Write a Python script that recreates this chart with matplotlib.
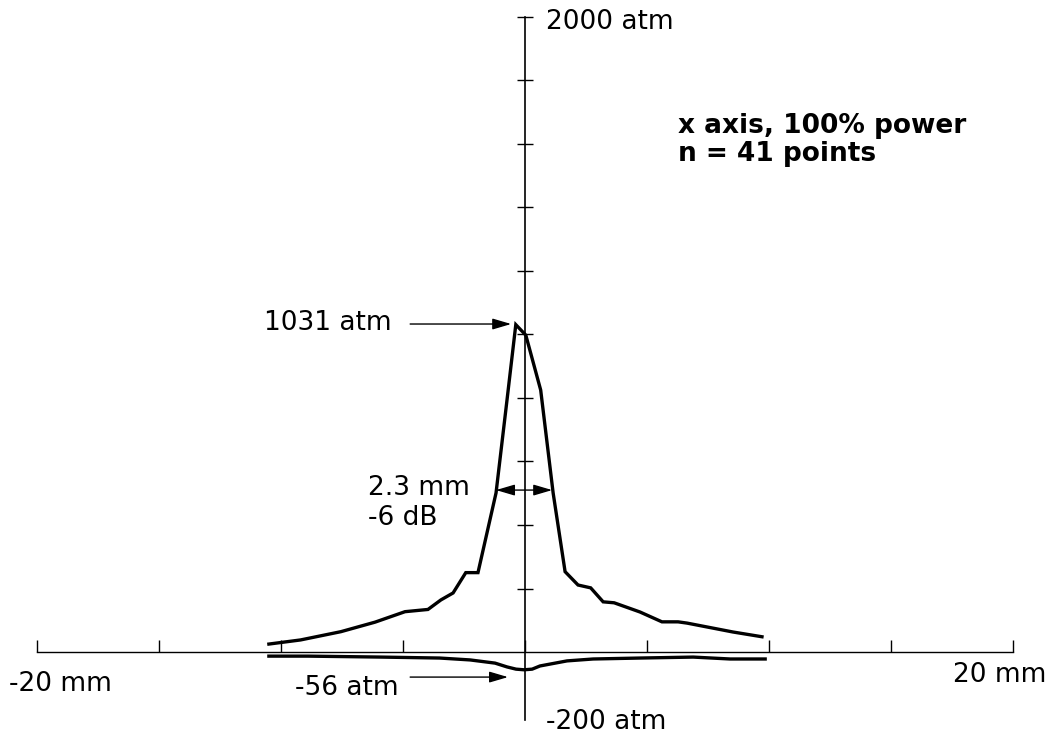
import matplotlib
matplotlib.use('Agg')
import matplotlib.pyplot as plt

# pressure profile along x axis (mm, atm)
pos_x = [-10.5, -9.2, -7.55, -6.15, -4.92, -3.98, -3.45, -2.95, -2.43, -1.93,
         -1.19, -0.74, -0.38, 0.03, 0.64, 1.15, 1.64, 2.17, 2.69, 3.2,
         3.65, 4.71, 5.61, 6.27, 6.64, 8.52, 9.71]
pos_p = [25, 38, 64, 94, 127, 134, 164, 186, 250, 250,
         501, 794, 1031, 998, 825, 501, 253, 211, 202, 158,
         155, 126, 95, 95, 91, 63, 48]

neg_x = [-10.5, -8.9, -5.9, -3.5, -2.25, -1.23, -0.74, -0.37, -0.04, 0.29,
         0.61, 1.72, 2.79, 4.71, 6.89, 8.4, 9.84]
neg_p = [-13, -13, -16, -19, -25, -35, -47, -54, -56, -54,
         -44, -28, -22, -19, -16, -22, -22]

x_ticks = [-20, -15, -10, -5, 0, 5, 10, 15, 20]
y_ticks = [200, 400, 600, 800, 1000, 1200, 1400, 1600, 1800, 2000]

peak = 1031
trough = -56
fwhm = (-1.19, 1.11, 510)

fig = plt.figure(figsize=(10.56, 7.37), dpi=100)
ax = fig.add_axes([0, 0, 1, 1])
ax.set_xlim(-21.52, 21.76)
ax.set_ylim(-267.7, 2053.5)

for s in ['top', 'right']:
    ax.spines[s].set_visible(False)
ax.spines['left'].set_position(('data', 0))
ax.spines['bottom'].set_position(('data', 0))
ax.spines['left'].set_bounds(-215, 2000)
ax.spines['bottom'].set_bounds(-20, 20)
ax.spines['left'].set_linewidth(1.2)
ax.spines['bottom'].set_linewidth(1.0)

ax.set_xticks(x_ticks)
ax.set_yticks(y_ticks)
ax.set_xticklabels([])
ax.set_yticklabels([])
ax.tick_params(axis='x', direction='in', length=9, width=1)
ax.tick_params(axis='y', direction='inout', length=12, width=1)

ax.plot(pos_x, pos_p, color='black', lw=2.4, solid_joinstyle='miter')
ax.plot(neg_x, neg_p, color='black', lw=2.4)

head = 'head_length=0.95,head_width=0.28'
arrow = dict(arrowstyle='-|>,' + head, color='black', lw=1.0,
             mutation_scale=12, shrinkA=0, shrinkB=0)
ax.annotate('', xy=(-0.57, peak + 2), xytext=(-4.71, peak + 2), arrowprops=arrow)
ax.annotate('', xy=(-0.70, -79), xytext=(-4.71, -79), arrowprops=arrow)
ax.annotate('', xy=(fwhm[0], fwhm[2]), xytext=(fwhm[1], fwhm[2]),
            arrowprops=dict(arrowstyle='<|-|>,' + head, color='black', lw=1.0,
                            mutation_scale=12, shrinkA=0, shrinkB=0))

fs = 19
ax.text(-5.45, 1036, f'{peak} atm', fontsize=fs, ha='right', va='center')
ax.text(-6.45, 518, '2.3 mm', fontsize=fs, ha='left', va='center')
ax.text(-6.45, 422, '-6 dB', fontsize=fs, ha='left', va='center')
ax.text(-5.2, -113, f'{trough} atm', fontsize=fs, ha='right', va='center')
ax.text(0.86, 1983, '2000 atm', fontsize=fs, ha='left', va='center')
ax.text(0.86, -222, '-200 atm', fontsize=fs, ha='left', va='center')
ax.text(-21.15, -101, '-20 mm', fontsize=fs, ha='left', va='center')
ax.text(17.54, -74, '20 mm', fontsize=fs, ha='left', va='center')
ax.text(6.27, 1635, 'x axis, 100% power', fontsize=19, fontweight='bold',
        ha='left', va='baseline')
ax.text(6.27, 1546, 'n = 41 points', fontsize=19, fontweight='bold',
        ha='left', va='baseline')

fig.savefig('out.png', dpi=100)
